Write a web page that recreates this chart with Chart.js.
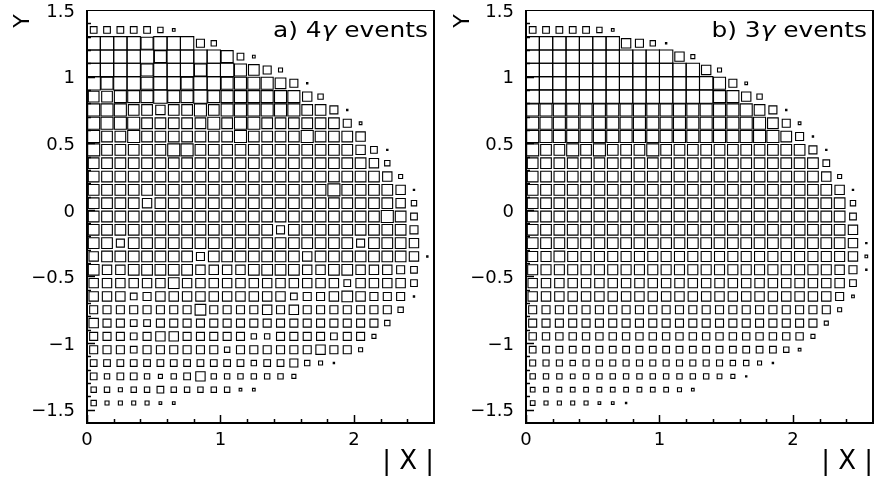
<!DOCTYPE html>
<html>
<head>
<meta charset="utf-8">
<script src="https://cdn.jsdelivr.net/npm/chart.js@4/dist/chart.umd.min.js"></script>
<style>
  html, body { margin: 0; padding: 0; background: #fff; }
  #wrap { position: relative; width: 877px; height: 485px; }
  .panel { position: absolute; top: 0; height: 485px; }
</style>
</head>
<body>
<div id="wrap">
  <div class="panel" style="left:0;width:440px"><canvas id="chartA" width="440" height="485"></canvas></div>
  <div class="panel" style="left:440px;width:437px"><canvas id="chartB" width="437" height="485"></canvas></div>
</div>
<script>
// bin geometry of the box histogram
const binWidth = 0.1;
const colX = [0.05, 0.15, 0.25, 0.35, 0.45, 0.55, 0.65, 0.75, 0.85, 0.95, 1.05, 1.15, 1.25,
              1.35, 1.45, 1.55, 1.65, 1.75, 1.85, 1.95, 2.05, 2.15, 2.25, 2.35, 2.45, 2.55];
const rowY = [1.35, 1.25, 1.15, 1.05, 0.95, 0.85, 0.75, 0.65, 0.55, 0.45, 0.35, 0.25, 0.15, 0.05,
              -0.05, -0.15, -0.25, -0.35, -0.45, -0.55, -0.65, -0.75, -0.85, -0.95, -1.05, -1.15,
              -1.25, -1.35, -1.45];

// axis ticks
const xTickValues = [0, 1, 2];
const yTickValues = [-1.5, -1, -0.5, 0, 0.5, 1, 1.5];
const xSmallTicks = [0, 0.2, 0.4, 0.6, 0.8, 1, 1.2, 1.4, 1.6, 1.8, 2, 2.2, 2.4];
const ySmallTicks = [-1.5, -1.4, -1.3, -1.2, -1.1, -1, -0.9, -0.8, -0.7, -0.6, -0.5, -0.4, -0.3, -0.2, -0.1,
                     0, 0.1, 0.2, 0.3, 0.4, 0.5, 0.6, 0.7, 0.8, 0.9, 1, 1.1, 1.2, 1.3, 1.4];

// box size per cell (10 = full cell), one row per Y bin, columns from |X| = 0.05
const boxesA = [
  [5,5,5,5,5, 4,2],
  [10,10,10,10,9, 10,10,10,6,4],
  [10,10,10,10,10, 9,10,10,10,10, 9,5,2],
  [10,10,10,10,9, 10,10,10,9,10, 10,9,8,6,3],
  [10,9,10,10,9, 10,10,9,10,10, 9,9,9,9,8, 6,1],
  [8,8,9,9,9, 10,9,9,10,9, 9,9,9,9,9, 9,7,4],
  [9,9,9,8,8, 7,8,8,9,8, 9,9,9,9,9, 9,8,8,6,1],
  [9,9,9,9,8, 8,8,8,8,9, 8,9,9,8,8, 8,8,8,8,6, 2],
  [9,8,8,9,8, 8,8,8,8,8, 8,9,8,8,8, 8,9,8,8,8, 7],
  [9,8,8,8,8, 8,9,9,8,8, 8,8,8,8,8, 8,8,8,8,8, 7,5,1],
  [8,8,8,8,8, 8,8,8,8,8, 8,8,8,8,8, 8,8,8,8,8, 8,7,4],
  [8,8,8,8,8, 8,8,8,8,8, 8,8,8,8,8, 8,8,8,8,8, 8,8,7,3],
  [8,8,8,8,8, 8,8,8,8,8, 8,8,8,8,8, 8,8,8,9,8, 8,8,8,7,1],
  [8,8,8,8,7, 8,8,8,8,8, 8,8,8,8,8, 8,8,8,8,8, 8,8,8,7,4],
  [8,8,8,8,8, 8,8,8,8,8, 8,8,8,8,8, 8,8,8,8,8, 8,8,9,8,5],
  [8,8,8,8,8, 8,8,8,8,8, 8,8,8,8,6, 8,8,8,8,8, 8,8,8,8,6],
  [8,8,6,8,8, 8,8,8,8,8, 8,8,8,8,8, 8,8,8,8,8, 6,8,8,8,7],
  [7,8,8,8,8, 8,8,8,6,8, 8,8,8,8,8, 8,7,8,8,8, 8,8,8,8,7, 1],
  [8,7,7,8,8, 8,8,8,7,7, 7,7,8,8,8, 8,7,7,8,8, 7,7,7,6,5],
  [7,7,7,7,7, 7,8,7,7,7, 7,7,7,7,7, 7,7,7,7,5, 7,7,7,7,5],
  [7,7,7,5,6, 7,7,7,7,7, 7,7,7,7,7, 5,6,6,7,8, 7,6,6,6,1],
  [6,6,6,6,6, 6,6,6,8,6, 6,6,6,7,6, 7,6,6,6,6, 6,6,6,4],
  [7,6,6,5,5, 6,6,6,6,6, 6,6,6,6,6, 6,6,6,6,6, 6,6,4],
  [6,6,6,5,6, 7,7,6,6,6, 6,6,4,4,6, 6,6,6,5,6, 6,3],
  [6,6,6,5,6, 6,6,6,6,6, 4,6,6,6,6, 6,6,7,6,6, 3],
  [5,5,5,5,5, 5,5,5,5,5, 5,5,4,5,5, 6,4,3,1],
  [5,4,5,5,4, 3,4,5,7,4, 4,4,4,4,4, 3],
  [4,4,3,4,4, 5,4,4,4,4, 4,2,2],
  [4,3,3,3,3, 2,2]
];

const boxesB = [
  [5,5,5,5,5, 4,2],
  [10,10,10,10,10, 10,10,7,6,4, 1],
  [10,10,10,10,10, 10,10,10,10,10, 10,7,3],
  [10,10,10,10,10, 10,10,10,10,10, 10,10,10,7,3],
  [10,10,10,10,10, 10,10,10,10,10, 10,10,10,10,9, 6,2],
  [10,10,10,10,10, 10,10,10,10,10, 10,10,10,10,9, 9,7,4],
  [9,9,9,9,9, 9,9,9,9,9, 9,9,9,9,9, 9,9,8,6,1],
  [9,9,9,9,9, 9,9,9,9,9, 9,9,9,9,9, 9,9,9,8,6, 2],
  [9,9,9,9,9, 9,9,9,9,9, 9,9,9,9,9, 9,9,9,9,8, 6,1],
  [9,8,8,9,8, 9,8,8,8,9, 8,8,8,8,8, 8,8,8,8,8, 8,6,1],
  [8,8,8,8,8, 8,8,8,8,8, 8,8,8,8,8, 8,8,8,8,8, 8,8,5],
  [8,8,8,8,8, 8,8,8,8,8, 8,8,8,8,8, 8,8,8,8,8, 8,8,7,3],
  [8,8,8,8,8, 8,8,8,8,8, 8,8,8,8,8, 8,8,8,8,8, 8,8,8,7,1],
  [8,8,8,8,8, 8,8,8,8,8, 8,8,8,8,8, 8,8,8,8,8, 8,8,8,8,4],
  [8,8,8,8,8, 8,8,8,8,8, 8,8,8,8,8, 8,8,8,8,8, 8,8,8,8,5],
  [8,8,8,8,8, 8,8,8,8,8, 8,8,8,8,8, 8,8,8,8,8, 8,8,8,8,7],
  [8,8,8,8,8, 8,8,8,8,8, 8,8,8,8,8, 8,8,8,8,8, 8,8,8,8,7, 1],
  [7.5,7.5,8,7.5,7.5, 7.5,7.5,7.5,7.5,7.5, 7.5,7.5,7.5,7.5,7.5, 7.5,7.5,7.5,7.5,7.5, 7.5,7.5,7.5,7.5,7, 2],
  [7.5,7.5,7.5,7.5,7.5, 7.5,7.5,7.5,7.5,7.5, 7.5,7.5,7.5,7.5,7.5, 7.5,7.5,7.5,7.5,7.5, 7.5,7.5,7.5,7,6, 1],
  [7,7,7,7,7, 7,7,7,7,7, 7,7,7,7,7, 7,7,7,7,7, 7,7,7,7,5],
  [7,7,7,7,7, 7,7,7,7,7, 7,7,7,7,7, 7,7,7,7,7, 7,7,7,6,2],
  [6,6,6,6,6, 6,6,6,6,6, 6,6,6,6,6, 6,6,6,6,6, 6,6,6,3],
  [6,6,6,6,6, 6,6,6,6,6, 6,6,6,6,6, 6,6,6,6,6, 6,6,3],
  [5.5,5.5,5.5,5.5,5.5, 5.5,5.5,5.5,5.5,5.5, 5.5,5.5,5.5,5.5,5.5, 5.5,5.5,5.5,5.5,5.5, 5.5,3],
  [5,5,5,5,5, 5,5,5,5,5, 5,5,5,5,5, 5,5,5,5,4, 2],
  [4.5,4.5,4.5,4,4.5, 4.5,4.5,4.5,4.5,4.5, 4.5,4.5,4.5,4.5,4.5, 4,4,3,1],
  [4,4,4,3.5,4, 4,4,4,4,4, 4,4,4,4,3.5, 3,1],
  [3.5,3.5,3.5,3.5,3.5, 3.5,3.5,3.5,3.5,3.5, 3.5,3,2],
  [3.5,3,3,3,3, 2,2,1]
];

const FONT = 'DejaVu Sans';

function toPoints(boxes) {
  const pts = [];
  boxes.forEach((row, i) => {
    row.forEach((v, k) => {
      if (v > 0) pts.push({ x: colX[k], y: rowY[i], v: v });
    });
  });
  return pts;
}

function fmt(v) {
  return String(v).replace('-', '\u2212');
}

// frame, inward tick marks and the panel caption
const frameAndTicks = {
  id: 'frameAndTicks',
  afterDatasetsDraw(chart, args, opts) {
    const { ctx, chartArea: a } = chart;
    const sx = chart.scales.x, sy = chart.scales.y;
    ctx.save();
    ctx.strokeStyle = '#000';
    ctx.lineWidth = 1;
    ctx.beginPath();
    ctx.moveTo(a.left, Math.round(a.top) + 0.5);
    ctx.lineTo(a.right, Math.round(a.top) + 0.5);
    ctx.stroke();
    ctx.lineWidth = 2;
    ctx.beginPath();
    ctx.moveTo(a.right, a.top);
    ctx.lineTo(a.right, a.bottom);
    ctx.lineTo(a.left, a.bottom);
    ctx.lineTo(a.left, a.top);
    ctx.stroke();

    ctx.lineWidth = 1.5;
    ctx.beginPath();
    xSmallTicks.forEach(v => {
      const px = Math.round(sx.getPixelForValue(v)) + 0.5;
      const len = xTickValues.includes(v) ? 8 : 4;
      ctx.moveTo(px, a.bottom);
      ctx.lineTo(px, a.bottom - len);
    });
    ySmallTicks.forEach(v => {
      const py = Math.round(sy.getPixelForValue(v)) + 0.5;
      const len = yTickValues.includes(v) ? 8 : 4;
      ctx.moveTo(a.left, py);
      ctx.lineTo(a.left + len, py);
    });
    ctx.stroke();

    // caption, with an italic gamma, slightly stretched like the original lettering
    const parts = opts.parts;
    const stretch = 1.13;
    const size = 22;
    ctx.fillStyle = '#000';
    ctx.textBaseline = 'alphabetic';
    let total = 0;
    parts.forEach(p => {
      ctx.font = (p.italic ? 'italic ' : '') + size + 'px "' + FONT + '"';
      p.w = ctx.measureText(p.text).width;
      total += p.w;
    });
    ctx.translate(a.right - 6 - total * stretch, a.top + 27);
    ctx.scale(stretch, 1);
    let xPos = 0;
    parts.forEach(p => {
      ctx.font = (p.italic ? 'italic ' : '') + size + 'px "' + FONT + '"';
      ctx.fillText(p.text, xPos, 0);
      xPos += p.w;
    });
    ctx.restore();
  }
};

function makeChart(id, boxes, caption, yWidth, rightPad) {
  return new Chart(document.getElementById(id), {
    type: 'scatter',
    data: {
      datasets: [{
        data: toPoints(boxes),
        pointStyle: 'rect',
        pointRadius: ctx => {
          if (!ctx.raw) return 0;
          const sx = ctx.chart.scales.x;
          const cell = sx.getPixelForValue(binWidth) - sx.getPixelForValue(0);
          return (ctx.raw.v / 10) * cell / Math.SQRT2;
        },
        pointBorderColor: '#000',
        pointBackgroundColor: 'rgba(0,0,0,0)',
        pointBorderWidth: 1.1
      }]
    },
    options: {
      responsive: false,
      animation: false,
      events: [],
      layout: { padding: { top: 10, right: rightPad, left: 0, bottom: 0 } },
      plugins: {
        legend: { display: false },
        tooltip: { enabled: false },
        frameAndTicks: { parts: caption }
      },
      scales: {
        x: {
          type: 'linear',
          min: 0,
          max: 2.6,
          afterBuildTicks: s => { s.ticks = xTickValues.map(v => ({ value: v })); },
          afterFit: s => { s.height = 62; s.paddingLeft = 0; s.paddingRight = 0; },
          grid: { display: false, drawTicks: false },
          border: { display: false },
          ticks: {
            color: '#000',
            font: { family: FONT, size: 18 },
            padding: 7,
            maxRotation: 0,
            autoSkip: false,
            callback: v => fmt(v)
          },
          title: {
            display: true,
            text: '| X |',
            align: 'end',
            color: '#000',
            font: { family: FONT, size: 26 },
            padding: { top: 0, bottom: 7 }
          }
        },
        y: {
          type: 'linear',
          min: -1.6,
          max: 1.5,
          afterBuildTicks: s => { s.ticks = yTickValues.map(v => ({ value: v })); },
          afterFit: s => { s.width = yWidth; s.paddingTop = 0; s.paddingBottom = 0; },
          grid: { display: false, drawTicks: false },
          border: { display: false },
          ticks: {
            color: '#000',
            font: { family: FONT, size: 18 },
            padding: 12,
            labelOffset: 2,
            autoSkip: false,
            callback: v => fmt(v)
          },
          title: {
            display: true,
            text: 'Y\u2009',
            align: 'end',
            color: '#000',
            font: { family: FONT, size: 22 },
            padding: { top: 10, bottom: 0 }
          }
        }
      }
    },
    plugins: [frameAndTicks]
  });
}

makeChart('chartA', boxesA,
  [{ text: 'a) 4' }, { text: '\u03b3', italic: true }, { text: ' events' }], 87, 6);
makeChart('chartB', boxesB,
  [{ text: 'b) 3' }, { text: '\u03b3', italic: true }, { text: ' events' }], 86, 4);
</script>
</body>
</html>
